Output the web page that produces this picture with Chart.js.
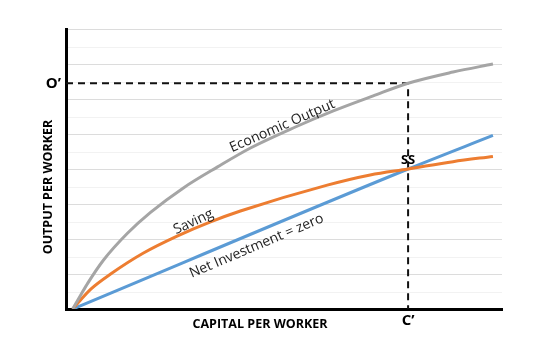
<!DOCTYPE html>
<html>
<head>
<meta charset="utf-8">
<script src="https://cdn.jsdelivr.net/npm/chart.js@4.4.0/dist/chart.umd.min.js"></script>
<style>
  html, body { margin: 0; padding: 0; background: #fff; }
  #wrap { width: 539px; height: 354px; }
</style>
</head>
<body>
<div id="wrap"><canvas id="solowChart" width="539" height="354"></canvas></div>
<script>
// capital per worker (x) and output per worker (y)
const outputX = [0, 0.24, 0.45, 0.92, 1.64, 2.32, 3.3, 4.32, 5.3, 6.64, 7.77, 8.96, 10, 11.34, 12.53];
const outputY = [0, 0.4, 0.74, 1.4, 2.17, 2.76, 3.46, 4.06, 4.6, 5.2, 5.66, 6.09, 6.45, 6.77, 7.0];

const savingX = [0, 0.18, 0.54, 1.13, 2.11, 3.13, 4.11, 5.0, 7.59, 8.87, 10, 11.34, 12.53];
const savingY = [0, 0.2, 0.57, 1.0, 1.6, 2.09, 2.49, 2.8, 3.54, 3.83, 4.0, 4.21, 4.36];

const investX = [0, 10, 12.53];
const investY = [0, 4.0, 4.96];

// steady state
const steadyK = 10;
const steadyOutput = 6.45;
const steadyS = 4.0;

// curve labels: text, x, y, angle (deg)
const curveLabels = [
    ['Economic Output', 6.25, 5.23, -23.5],
    ['Saving', 3.6, 2.49, -25],
    ['Net Investment = zero', 5.48, 1.8, -23]
];

const toPoints = (xs, ys) => xs.map((x, i) => ({ x: x, y: ys[i] }));

const labelsPlugin = {
    id: 'labelsPlugin',
    afterDatasetsDraw(chart) {
        const { ctx, scales: { x, y }, chartArea } = chart;
        ctx.save();
        ctx.fillStyle = '#222';
        ctx.textAlign = 'center';
        ctx.textBaseline = 'middle';

        // curve labels
        ctx.font = '14px "Open Sans"';
        curveLabels.forEach(([text, lx, ly, ang]) => {
            ctx.save();
            ctx.translate(x.getPixelForValue(lx), y.getPixelForValue(ly));
            ctx.rotate(ang * Math.PI / 180);
            ctx.fillText(text, 0, 0);
            ctx.restore();
        });

        // SS
        ctx.fillStyle = '#000';
        ctx.font = 'bold 13px "Open Sans"';
        ctx.fillText('SS', x.getPixelForValue(steadyK), y.getPixelForValue(steadyS) - 9);

        // O' and C'
        ctx.font = 'bold 15px "Open Sans"';
        ctx.textAlign = 'right';
        ctx.fillText('O\u2019', chartArea.left - 5, y.getPixelForValue(steadyOutput));
        ctx.textAlign = 'center';
        ctx.fillText('C\u2019', x.getPixelForValue(steadyK), chartArea.bottom + 12);

        // axis titles
        ctx.font = 'bold 12.5px "Open Sans"';
        ctx.fillText('CAPITAL PER WORKER', 260, chartArea.bottom + 15);
        ctx.save();
        ctx.translate(48, 187);
        ctx.rotate(-Math.PI / 2);
        ctx.fillText('OUTPUT PER WORKER', 0, 0);
        ctx.restore();

        ctx.restore();
    }
};

// horizontal gridlines, drawn only inside the plot area
const gridPlugin = {
    id: 'gridLines',
    beforeDatasetsDraw(chart) {
        const { ctx, scales: { y }, chartArea } = chart;
        ctx.save();
        ctx.lineWidth = 1;
        for (let v = 0.5; v <= 8; v += 0.5) {
            const py = Math.round(y.getPixelForValue(v)) + 0.5;
            ctx.strokeStyle = Number.isInteger(v) ? '#dcdcdc' : '#f2f2f2';
            ctx.beginPath();
            ctx.moveTo(chartArea.left + 2, py);
            ctx.lineTo(chartArea.right, py);
            ctx.stroke();
        }
        ctx.restore();
    }
};

const lineStyle = { fill: false, pointRadius: 0, cubicInterpolationMode: 'monotone', borderWidth: 3 };

new Chart(document.getElementById('solowChart').getContext('2d'), {
    type: 'line',
    data: {
        datasets: [
            Object.assign({ label: 'Economic Output', data: toPoints(outputX, outputY), borderColor: '#a5a5a5' }, lineStyle),
            Object.assign({ label: 'Saving', data: toPoints(savingX, savingY), borderColor: '#ed7d31' }, lineStyle),
            Object.assign({ label: 'Net Investment = zero', data: toPoints(investX, investY), borderColor: '#5b9bd5' }, lineStyle),
            {
                label: 'steady state',
                data: [{ x: -0.2, y: steadyOutput }, { x: steadyK, y: steadyOutput }, { x: steadyK, y: 0 }],
                borderColor: '#111',
                borderWidth: 2,
                borderDash: [7, 5],
                pointRadius: 0,
                fill: false,
                tension: 0
            }
        ]
    },
    options: {
        responsive: false,
        animation: false,
        layout: { padding: { left: 66, right: 37, top: 29, bottom: 45 } },
        plugins: { legend: { display: false }, tooltip: { enabled: false } },
        scales: {
            x: {
                type: 'linear',
                min: -0.2,
                max: 12.8,
                ticks: { display: false },
                grid: { display: false, drawTicks: false },
                border: { display: true, color: '#000', width: 3 },
                afterFit: s => { s.height = 0; }
            },
            y: {
                min: 0,
                max: 8,
                ticks: { display: false },
                grid: { display: false, drawTicks: false },
                border: { display: true, color: '#000', width: 3 },
                afterFit: s => { s.width = 0; }
            }
        }
    },
    plugins: [gridPlugin, labelsPlugin]
});
</script>
</body>
</html>
